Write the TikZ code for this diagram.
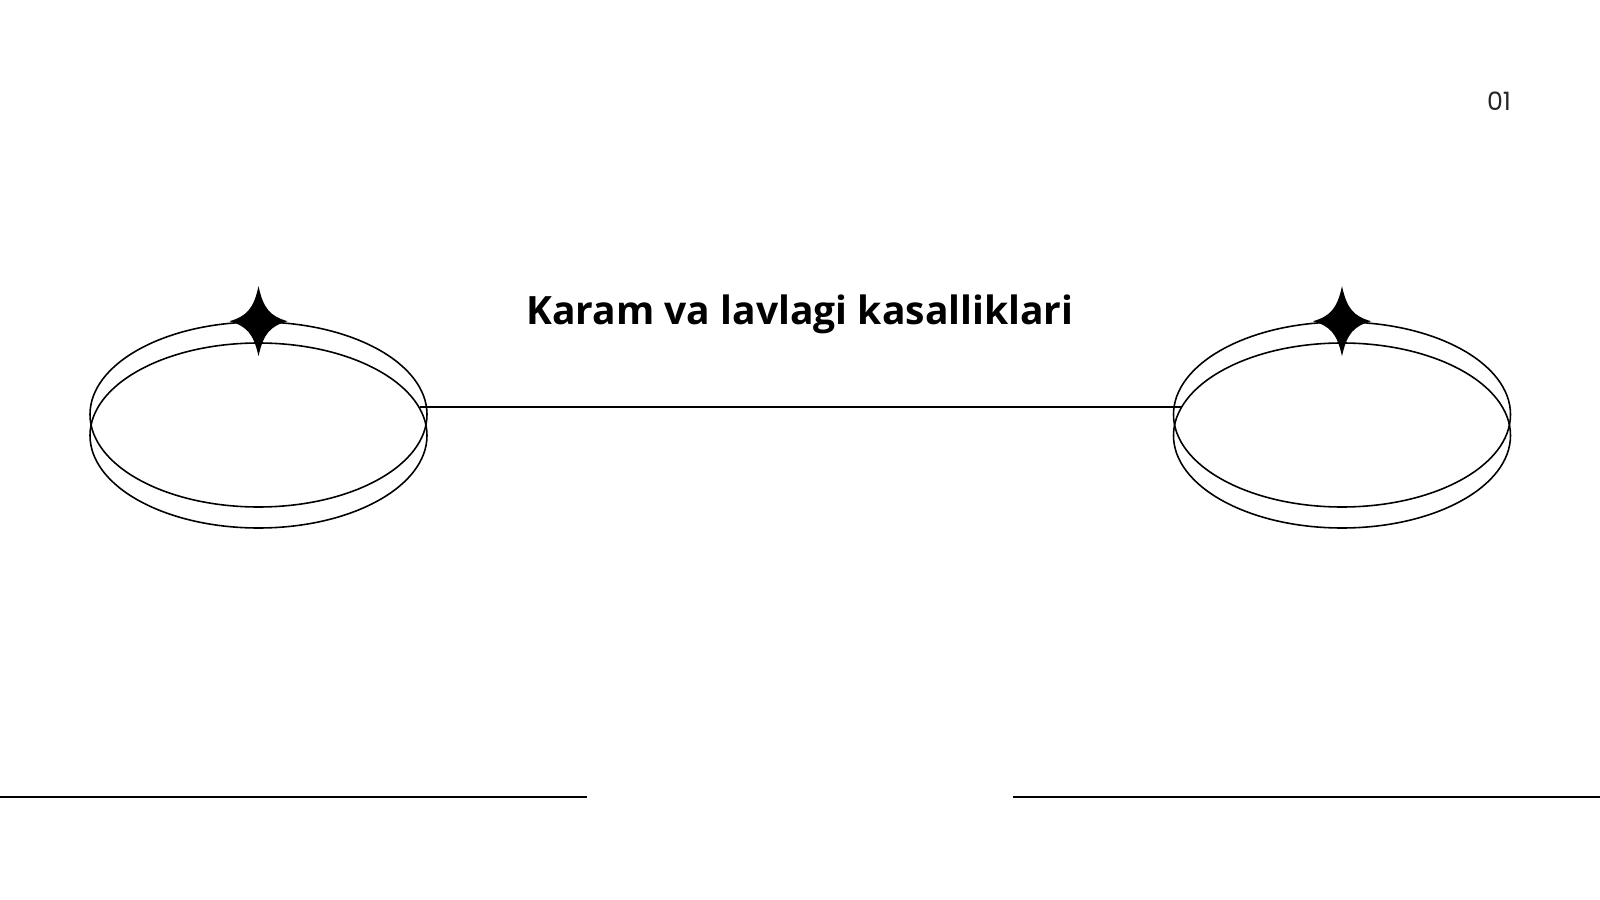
\documentclass[tikz,border=0pt]{standalone}
\usepackage{fontspec}
\setmainfont{Open Sans}
\newfontfamily\numfont{Poppins}
\usetikzlibrary{shapes.geometric}
\tikzset{ring/.style = {draw, ellipse, line width=0.45pt, inner sep=0pt,
                        minimum width=33.7mm, minimum height=18.5mm},
         rule/.style = {line width=0.5pt},
         title/.style = {font=\fontsize{11.1}{13}\selectfont\bfseries, anchor=base},
         pagenum/.style = {font=\numfont\fontsize{7.2}{8}\selectfont,
                           text=black!85, anchor=base},
         sparkle/.pic = {\fill (0,-35) .. controls (5,-12) and (12,-5) .. (29,0)
                                  .. controls (12,5) and (5,12) .. (0,35)
                                  .. controls (-5,12) and (-12,5) .. (-29,0)
                                  .. controls (-12,-5) and (-5,-12) .. cycle;}}

\begin{document}
\begin{tikzpicture}[x=0.1mm, y=-0.1mm]
      \useasboundingbox (0, 0) rectangle (1600, 900);

      \node [ring] (leftTop) at (258.5, 414.5) {};
      \node [ring] (leftLow) at (258.5, 435.5) {};
      \node [ring] (rightTop) at (1342, 414.5) {};
      \node [ring] (rightLow) at (1342, 435.5) {};
      \pic at (leftTop.north) {sparkle};
      \pic at (rightTop.north) {sparkle};
      \draw [rule] (leftLow.10) -- (rightLow.170);

      \node [title] (heading) at (800, 324) {Karam va lavlagi kasalliklari};
      \node [pagenum] (pageno) at (1499, 111) {01};

      \coordinate (footL) at (0, 797);
      \coordinate (footR) at (1600, 797);
      \draw [rule] (footL) -- (587, 797);
      \draw [rule] (1013, 797) -- (footR);
    \end{tikzpicture}
\end{document}
